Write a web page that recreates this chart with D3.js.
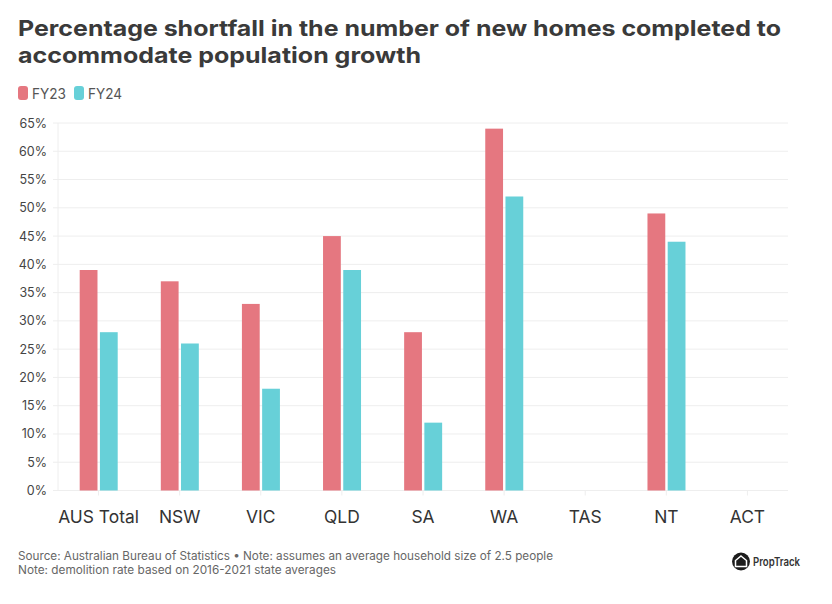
<!DOCTYPE html>
<html><head><meta charset="utf-8">
<script src="https://cdn.jsdelivr.net/npm/d3@7"></script>
<style>html,body{margin:0;padding:0;background:#fff}svg{display:block;font-family:Inter,sans-serif}</style>
</head><body><svg id="c" width="832" height="604"></svg>
<script>
const categories=["AUS Total","NSW","VIC","QLD","SA","WA","TAS","NT","ACT"];
const seriesNames=["FY23","FY24"];
const fy23=[39,37,33,45,28,64,null,49,null];
const fy24=[28,26,18,39,12,52,null,44,null];
const yTicks=[0,5,10,15,20,25,30,35,40,45,50,55,60,65];
const colors=["#e57780","#67d0d8"];
const titleLines=["Percentage shortfall in the number of new homes completed to","accommodate population growth"];
const notes=["Source: Australian Bureau of Statistics • Note: assumes an average household size of 2.5 people","Note: demolition rate based on 2016-2021 state averages"];

const svg=d3.select("#c");
const x=d3.scaleBand().domain(categories).range([58,788]);
const x1=d3.scaleBand().domain(seriesNames).range([21.7,59.7]).paddingInner(0.12);
const y=d3.scaleLinear().domain([0,65]).range([490.5,123]);

svg.append("g").selectAll("text").data(titleLines).join("text")
 .attr("x",18).attr("y",(d,i)=>[36,63][i]).attr("font-size",22).attr("font-weight",700).attr("fill","#3a3a3a")
 .attr("textLength",(d,i)=>[763,403][i]).attr("lengthAdjust","spacingAndGlyphs").text(d=>d);

const lg=svg.append("g");
seriesNames.forEach((s,i)=>{
 const lx=[18,74][i];
 lg.append("rect").attr("x",lx).attr("y",86).attr("width",10).attr("height",14).attr("rx",3).attr("fill",colors[i]);
 lg.append("text").attr("x",lx+14).attr("y",98.5).attr("font-size",14).attr("fill","#555").attr("textLength",34).attr("lengthAdjust","spacingAndGlyphs").text(s);
});

const gy=svg.append("g");
gy.selectAll("line").data(yTicks).join("line")
 .attr("x1",53).attr("x2",788).attr("y1",d=>y(d)).attr("y2",d=>y(d)).attr("stroke","#eeeeee").attr("stroke-width",1);
gy.append("line").attr("x1",58).attr("x2",58).attr("y1",y(65)).attr("y2",y(0)).attr("stroke","#eeeeee");
gy.selectAll("text").data(yTicks).join("text")
 .attr("x",47).attr("y",d=>y(d)+4.5).attr("text-anchor","end").attr("font-size",12.5).attr("fill","#444").text(d=>d+"%");

const gx=svg.append("g");
gx.selectAll("line").data(categories).join("line")
 .attr("x1",d=>x(d)+x.bandwidth()/2).attr("x2",d=>x(d)+x.bandwidth()/2).attr("y1",y(0)).attr("y2",y(0)+5).attr("stroke","#eeeeee");
gx.selectAll("text").data(categories).join("text")
 .attr("x",d=>x(d)+x.bandwidth()/2).attr("y",523).attr("text-anchor","middle").attr("font-size",17.4).attr("fill","#333").text(d=>d);

[fy23,fy24].forEach((vals,si)=>{
 svg.append("g").selectAll("rect").data(vals.map((v,i)=>({v,c:categories[i]})).filter(d=>d.v!=null)).join("rect")
  .attr("x",d=>x(d.c)+x1(seriesNames[si])).attr("width",x1.bandwidth())
  .attr("y",d=>y(d.v)).attr("height",d=>y(0)-y(d.v)).attr("fill",colors[si]);
});

svg.append("g").selectAll("text").data(notes).join("text")
 .attr("x",18).attr("y",(d,i)=>[560,574][i]).attr("font-size",11.5).attr("fill","#666")
 .attr("textLength",(d,i)=>[535,318][i]).attr("lengthAdjust","spacingAndGlyphs").text(d=>d);

const logo=svg.append("g").attr("transform","translate(741,561.5)");
logo.append("circle").attr("r",9).attr("fill","#1c1c1c");
logo.append("path").attr("d","M0,-5.5L5.5,-1V5H-5.5V-1Z").attr("fill","none").attr("stroke","#fff").attr("stroke-width",1.5);
svg.append("text").attr("x",753).attr("y",566).attr("font-size",11.5).attr("font-weight",600).attr("fill","#333")
 .attr("textLength",47).attr("lengthAdjust","spacingAndGlyphs").text("PropTrack");
</script></body></html>
